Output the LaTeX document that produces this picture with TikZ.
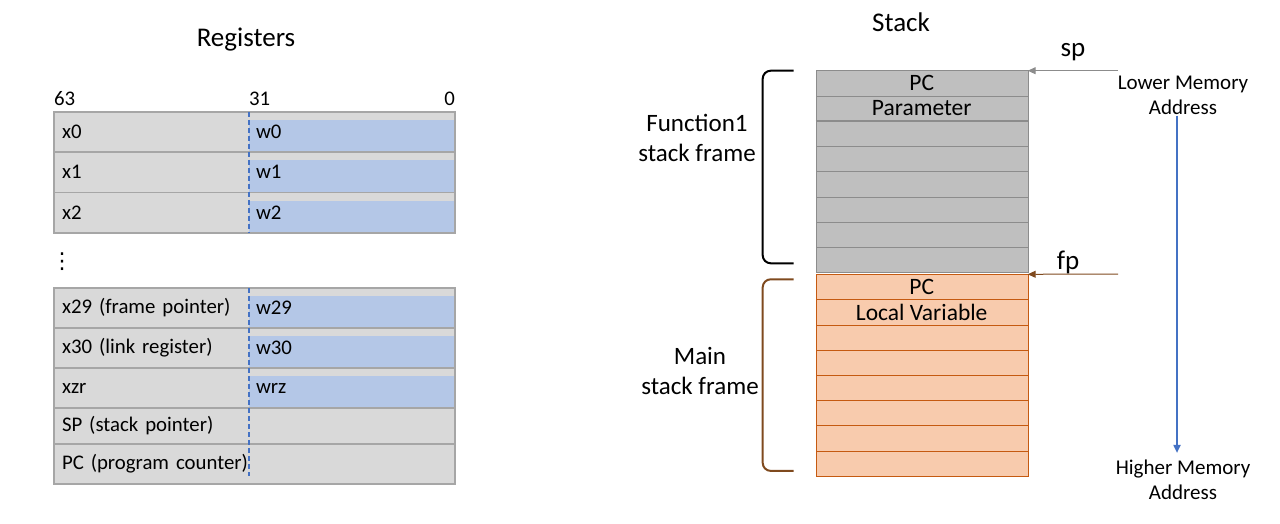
\documentclass[tikz,border=0pt]{standalone}
\usepackage{fontspec}
\setmainfont{Carlito}
\newfontfamily\dotsfont{DejaVu Sans}
\usetikzlibrary{arrows.meta,positioning}

\definecolor{reggray}{HTML}{D9D9D9}
\definecolor{regblue}{HTML}{B4C7E7}
\definecolor{regline}{HTML}{A6A6A6}
\definecolor{bitblue}{HTML}{4472C4}
\definecolor{stackgray}{HTML}{BFBFBF}
\definecolor{stackline}{HTML}{8C8C8C}
\definecolor{frameorange}{HTML}{F8CBAD}
\definecolor{frameline}{HTML}{C55A11}
\definecolor{framebrown}{HTML}{7F4A1E}

\begin{document}
\begin{tikzpicture}[
    x=1pt, y=-1pt,
    regfont/.style={font=\fontsize{20.8}{25}\selectfont},
    xcell/.style={fill=reggray, text width=179pt, inner xsep=8pt, inner ysep=0pt, minimum height=40pt, align=left, outer sep=0pt, regfont},
    wcell/.style={fill=reggray, text width=192pt, inner xsep=7pt, inner ysep=0pt, minimum height=40pt, align=left, outer sep=0pt, regfont,
        path picture={\fill[regblue] ([yshift=-8pt]path picture bounding box.north west) rectangle (path picture bounding box.south east);}},
    wempty/.style={fill=reggray, text width=192pt, inner xsep=7pt, inner ysep=0pt, minimum height=40pt, outer sep=0pt, regfont},
    rowline/.style={draw=regline, line width=1.2pt},
    bitdash/.style={draw=bitblue, dashed, dash pattern=on 5pt off 3pt, line width=1.5pt},
    gcell/.style={draw=stackline, fill=stackgray, minimum width=212pt, minimum height=25.2pt, inner sep=0pt, outer sep=0pt, font=\fontsize{23.5}{28}\selectfont},
    ocell/.style={draw=frameline, fill=frameorange, minimum width=212pt, minimum height=25.2pt, inner sep=0pt, outer sep=0pt, font=\fontsize{23.5}{28}\selectfont},
    title/.style={font=\fontsize{27}{32}\selectfont},
    framelbl/.style={align=center, font=\fontsize{25}{30}\selectfont},
    memlbl/.style={align=center, inner sep=1pt, font=\fontsize{21}{25}\selectfont},
    ptrarr/.style={-{Triangle[length=8pt, width=7pt]}, line width=1pt},
]
\useasboundingbox (0,0) rectangle (1280,524);

% registers
\node[title] (regtitle) at (246,40) {Registers};

\node[xcell, anchor=north west] (x0) at (54,112) {x0};
\node[wcell, right=0pt of x0] (w0) {w0};
\node[xcell, below=0pt of x0, minimum height=40.5pt] (x1) {x1};
\node[wcell, right=0pt of x1, minimum height=40.5pt] (w1) {w1};
\node[xcell, below=0pt of x1, minimum height=40.5pt] (x2) {x2};
\node[wcell, right=0pt of x2, minimum height=40.5pt] (w2) {w2};

\node[regfont, anchor=base west, inner sep=0pt] (b63) at ([yshift=6pt]x0.north west) {63};
\node[regfont, anchor=base west, inner sep=0pt] (b31) at ([yshift=6pt]w0.north west) {31};
\node[regfont, anchor=base east, inner sep=0pt] (b0) at ([yshift=6pt]w0.north east) {0};

\node[font=\fontsize{22}{26}\dotsfont, inner sep=0pt] (dots) at (62,262) {⋮};

\node[xcell, anchor=north west] (x29) at (54,288) {x29 (frame pointer)};
\node[wcell, right=0pt of x29] (w29) {w29};
\node[xcell, below=0pt of x29] (x30) {x30 (link register)};
\node[wcell, right=0pt of x30] (w30) {w30};
\node[xcell, below=0pt of x30] (xzr) {xzr};
\node[wcell, right=0pt of xzr] (wzr) {wrz};
\node[xcell, below=0pt of xzr, minimum height=36pt] (xsp) {SP (stack pointer)};
\node[wempty, right=0pt of xsp, minimum height=36pt] (wsp) {};
\node[xcell, below=0pt of xsp] (xpc) {\mbox{PC (program counter)}};
\node[wempty, right=0pt of xpc] (wpc) {};

\draw[rowline] (x0.north west) rectangle (w2.south east);
\draw[rowline] (x0.south west) -- (w0.south east);
\draw[rowline] (x1.south west) -- (w1.south east);
\draw[bitdash] (w0.north west) -- (w2.south west);

\draw[rowline] (x29.north west) rectangle (wpc.south east);
\draw[rowline] (x29.south west) -- (w29.south east);
\draw[rowline] (x30.south west) -- (w30.south east);
\draw[rowline, line width=2pt] (xzr.south west) -- (wzr.south east);
\draw[rowline] (xsp.south west) -- (wsp.south east);
\draw[bitdash] (w29.north west) -- ([yshift=8pt]wpc.south west);

% stack
\node[title] (stacktitle) at (901,22) {Stack};

\node[gcell, anchor=north west] (g1) at (815.7,70.7) {PC};
\node[gcell, below=0pt of g1] (g2) {Parameter};
\node[gcell, below=0pt of g2] (g3) {};
\node[gcell, below=0pt of g3] (g4) {};
\node[gcell, below=0pt of g4] (g5) {};
\node[gcell, below=0pt of g5] (g6) {};
\node[gcell, below=0pt of g6] (g7) {};
\node[gcell, below=0pt of g7] (g8) {};
\draw[stackline, line width=1.6pt] (g2.south west) -- (g2.south east);

\node[ocell, below=2pt of g8] (o1) {PC};
\node[ocell, below=0pt of o1] (o2) {Local Variable};
\node[ocell, below=0pt of o2] (o3) {};
\node[ocell, below=0pt of o3] (o4) {};
\node[ocell, below=0pt of o4] (o5) {};
\node[ocell, below=0pt of o5] (o6) {};
\node[ocell, below=0pt of o6] (o7) {};
\node[ocell, below=0pt of o7] (o8) {};

% frame brackets
\draw[line width=2pt, rounded corners=8pt] ([xshift=-22pt]g1.north west) -- ([xshift=-53pt]g1.north west)
    -- ([xshift=-53pt, yshift=9pt]g8.south west) -- ([xshift=-22pt, yshift=9pt]g8.south west);
\draw[framebrown, line width=2pt, rounded corners=8pt] ([xshift=-22pt, yshift=-5pt]o1.north west) -- ([xshift=-53pt, yshift=-5pt]o1.north west)
    -- ([xshift=-53pt, yshift=5pt]o8.south west) -- ([xshift=-22pt, yshift=5pt]o8.south west);

\node[framelbl] (fn1lbl) at (697,138) {Function1\\stack frame};
\node[framelbl] (mainlbl) at (700,371) {Main\\stack frame};

% pointers
\coordinate (spstart) at (1118,70.7);
\coordinate (fpstart) at (1118,274);
\draw[ptrarr, stackline] (spstart) -- (g1.north east);
\draw[ptrarr, framebrown] (fpstart) -- (o1.north east);
\node[title] (splbl) at (1073,52) {sp};
\node[title] (fplbl) at (1068,262) {fp};

% memory direction
\node[memlbl] (lowmem) at (1183,95) {Lower Memory\\Address};
\node[memlbl] (highmem) at (1183,480) {Higher Memory\\Address};
\draw[bitblue, line width=1.8pt, -{Triangle[length=8pt, width=7pt]}] ([xshift=-6pt]lowmem.south) -- ([xshift=-6pt, yshift=6pt]highmem.north);
\end{tikzpicture}
\end{document}
